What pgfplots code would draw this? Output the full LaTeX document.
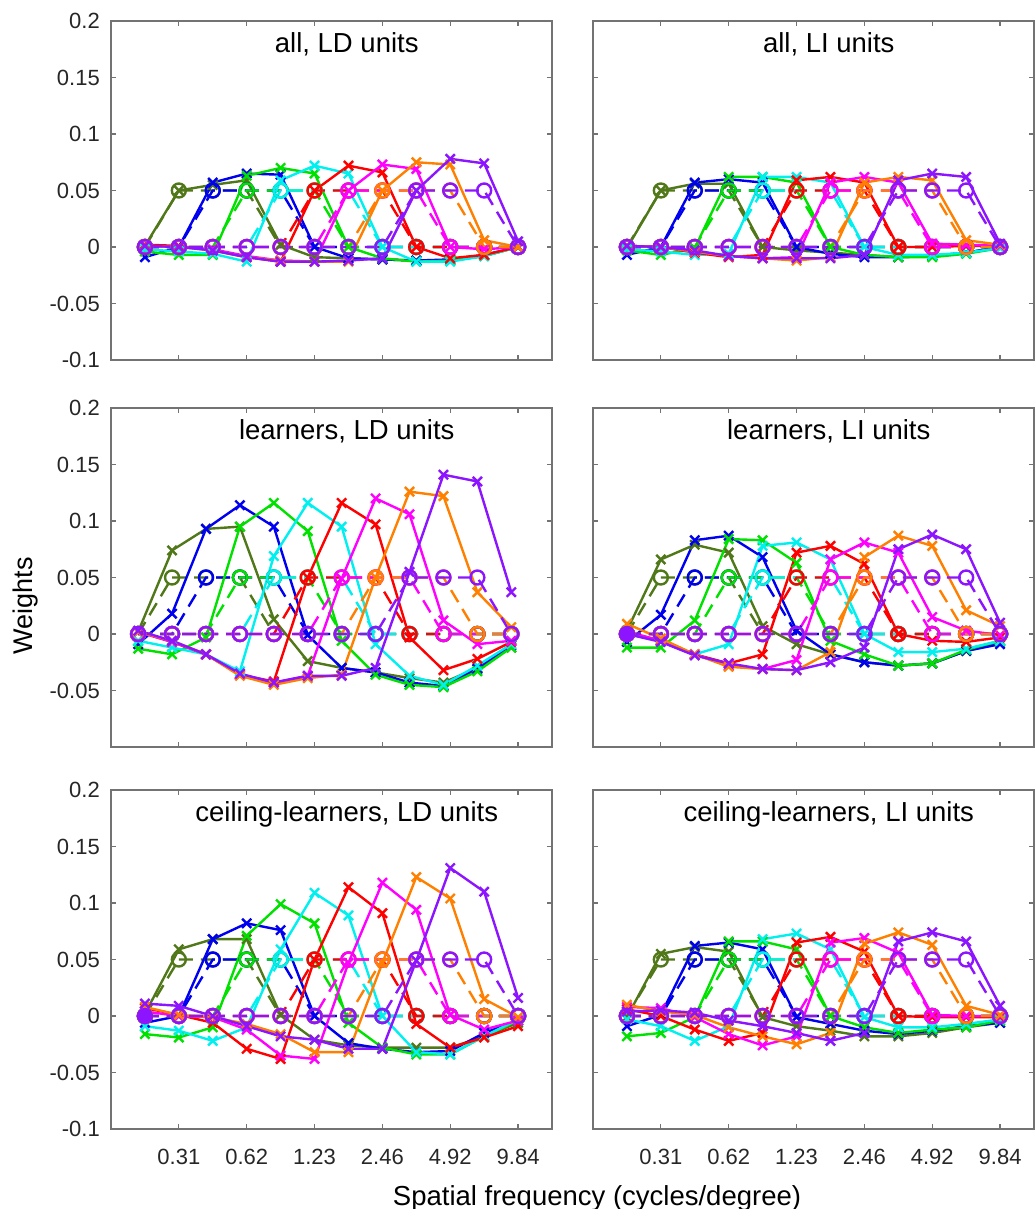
\documentclass[border=0pt]{standalone}
\usepackage{pgfplots}
\pgfplotsset{compat=1.18}
\usepackage{pgfplotstable}
\usepackage{fontspec}
\setmainfont{Liberation Sans}
\definecolor{cA}{RGB}{80,120,25}
\definecolor{cB}{RGB}{0,0,240}
\definecolor{cC}{RGB}{0,225,0}
\definecolor{cD}{RGB}{0,240,240}
\definecolor{cE}{RGB}{255,0,0}
\definecolor{cF}{RGB}{255,0,255}
\definecolor{cG}{RGB}{255,128,0}
\definecolor{cH}{RGB}{140,20,255}

% initial weights (circles, dashed); xs = shifted positions for the middle-left panel
\pgfplotstableread{
x xs a b c d e f g h
1 0.8 0 0 0 0 0 0 0 0
2 1.8 0.05 0 0 0 0 0 0 0
3 2.8 0.05 0.05 0 0 0 0 0 0
4 3.8 0.05 0.05 0.05 0 0 0 0 0
5 4.8 0 0.05 0.05 0.05 0 0 0 0
6 5.8 0 0 0.05 0.05 0.05 0 0 0
7 6.8 0 0 0 0.05 0.05 0.05 0 0
8 7.8 0 0 0 0 0.05 0.05 0.05 0
9 8.8 0 0 0 0 0 0.05 0.05 0.05
10 9.8 0 0 0 0 0 0 0.05 0.05
11 10.8 0 0 0 0 0 0 0 0.05
12 11.8 0 0 0 0 0 0 0 0
}\init

\pgfplotstableread{
x a b c d e f g h
1 0.001 -0.009 -0.004 -0.002 0.002 0.001 0.001 0.001
2 0.050 0.000 -0.007 -0.004 0.001 0.000 0.000 0.000
3 0.055 0.057 -0.007 -0.006 -0.003 -0.002 -0.003 -0.003
4 0.059 0.065 0.063 -0.013 -0.009 -0.008 -0.009 -0.009
5 0.002 0.064 0.070 0.059 -0.013 -0.012 -0.012 -0.013
6 -0.009 0.000 0.065 0.072 0.050 -0.013 -0.013 -0.013
7 -0.010 -0.010 0.000 0.065 0.072 0.050 -0.013 -0.012
8 -0.011 -0.011 -0.010 0.000 0.066 0.073 0.050 -0.010
9 -0.012 -0.012 -0.013 -0.013 0.000 0.069 0.075 0.050
10 -0.012 -0.011 -0.012 -0.013 -0.010 0.000 0.073 0.078
11 -0.008 -0.007 -0.008 -0.008 -0.007 -0.002 0.006 0.074
12 0.000 0.000 0.000 0.000 0.000 0.000 0.000 0.005
}\TL

\pgfplotstableread{
x a b c d e f g h
1 -0.001 -0.007 -0.003 -0.002 0.001 0.001 0.001 0.001
2 0.050 0.000 -0.007 -0.004 0.000 0.000 0.000 0.000
3 0.056 0.057 -0.001 -0.007 -0.005 -0.004 -0.004 -0.003
4 0.056 0.060 0.062 -0.006 -0.009 -0.008 -0.008 -0.008
5 0.000 0.057 0.062 0.062 -0.007 -0.010 -0.010 -0.010
6 -0.003 0.000 0.057 0.062 0.059 -0.009 -0.012 -0.010
7 -0.005 -0.006 0.000 0.057 0.062 0.057 -0.009 -0.010
8 -0.007 -0.009 -0.007 0.000 0.057 0.062 0.057 -0.007
9 -0.009 -0.009 -0.009 -0.007 0.000 0.057 0.062 0.059
10 -0.008 -0.008 -0.009 -0.007 0.000 0.003 0.059 0.065
11 -0.005 -0.005 -0.006 -0.005 0.001 0.002 0.006 0.062
12 0.000 0.000 -0.001 -0.001 0.001 0.001 0.002 0.003
}\TR

\pgfplotstableread{
x a b c d e f g h
0.8 0.002 -0.009 -0.013 -0.006 0.002 0.002 0.002 0.003
1.8 0.074 0.018 -0.018 -0.012 -0.007 -0.007 -0.006 -0.006
2.8 0.093 0.093 -0.003 -0.018 -0.018 -0.018 -0.018 -0.018
3.8 0.095 0.114 0.095 -0.033 -0.036 -0.036 -0.037 -0.035
4.8 0.013 0.095 0.116 0.069 -0.042 -0.043 -0.045 -0.043
5.8 -0.024 -0.001 0.091 0.116 0.050 -0.037 -0.039 -0.037
6.8 -0.030 -0.030 -0.006 0.095 0.116 0.049 -0.036 -0.037
7.8 -0.034 -0.034 -0.036 -0.009 0.097 0.120 0.050 -0.030
8.8 -0.039 -0.043 -0.045 -0.037 -0.003 0.106 0.126 0.055
9.8 -0.043 -0.046 -0.047 -0.045 -0.032 0.012 0.122 0.141
10.8 -0.030 -0.031 -0.033 -0.028 -0.022 -0.009 0.037 0.135
11.8 -0.012 -0.010 -0.012 -0.009 -0.007 -0.006 0.006 0.037
}\ML

\pgfplotstableread{
x a b c d e f g h
1 0.003 -0.007 -0.012 0.000 0.002 0.002 0.009 0.000
2 0.066 0.017 -0.012 -0.006 -0.006 -0.006 -0.004 -0.007
3 0.079 0.083 0.012 -0.018 -0.018 -0.018 -0.018 -0.019
4 0.072 0.087 0.084 -0.009 -0.026 -0.028 -0.029 -0.026
5 0.007 0.068 0.083 0.078 -0.018 -0.031 -0.031 -0.031
6 -0.009 0.003 0.063 0.081 0.072 -0.023 -0.032 -0.032
7 -0.018 -0.018 -0.006 0.066 0.078 0.066 -0.016 -0.025
8 -0.025 -0.025 -0.018 0.000 0.062 0.081 0.068 -0.012
9 -0.028 -0.028 -0.028 -0.016 0.000 0.072 0.087 0.075
10 -0.026 -0.026 -0.026 -0.016 -0.006 0.015 0.078 0.088
11 -0.015 -0.015 -0.014 -0.013 -0.007 0.003 0.021 0.075
12 -0.007 -0.009 -0.006 -0.006 -0.003 -0.001 0.007 0.010
}\MR

\pgfplotstableread{
x a b c d e f g h
1 0.002 -0.006 -0.016 -0.009 0.007 0.004 0.008 0.011
2 0.059 0.000 -0.019 -0.013 0.001 0.000 0.001 0.009
3 0.068 0.068 -0.010 -0.022 -0.006 -0.001 -0.001 0.000
4 0.068 0.082 0.071 -0.010 -0.029 -0.012 -0.007 -0.009
5 0.001 0.076 0.099 0.059 -0.038 -0.035 -0.016 -0.018
6 -0.021 0.000 0.082 0.109 0.050 -0.038 -0.032 -0.021
7 -0.026 -0.024 -0.006 0.089 0.114 0.047 -0.032 -0.029
8 -0.028 -0.029 -0.028 0.000 0.091 0.118 0.047 -0.029
9 -0.028 -0.032 -0.034 -0.032 -0.007 0.094 0.123 0.049
10 -0.028 -0.031 -0.034 -0.034 -0.028 0.001 0.104 0.131
11 -0.018 -0.015 -0.018 -0.018 -0.019 -0.012 0.015 0.110
12 -0.006 -0.004 -0.004 -0.003 -0.009 -0.004 -0.001 0.016
}\BL

\pgfplotstableread{
x a b c d e f g h
1 -0.001 -0.009 -0.018 -0.003 0.006 0.008 0.010 0.004
2 0.055 0.001 -0.015 -0.009 0.000 0.007 0.004 0.005
3 0.061 0.062 -0.001 -0.022 -0.012 -0.001 0.001 0.003
4 0.057 0.065 0.066 -0.009 -0.022 -0.016 -0.010 -0.004
5 -0.001 0.059 0.066 0.068 -0.015 -0.026 -0.018 -0.009
6 -0.009 -0.001 0.059 0.073 0.065 -0.018 -0.025 -0.015
7 -0.013 -0.007 0.000 0.059 0.070 0.065 -0.015 -0.022
8 -0.018 -0.013 -0.010 -0.001 0.057 0.069 0.064 -0.015
9 -0.018 -0.016 -0.015 -0.010 0.000 0.056 0.074 0.066
10 -0.015 -0.013 -0.012 -0.010 -0.001 0.001 0.063 0.074
11 -0.010 -0.009 -0.010 -0.007 -0.001 0.000 0.009 0.066
12 -0.006 -0.006 -0.004 -0.003 -0.001 0.000 0.001 0.009
}\BR

\newcommand\unit[4]{%
  \addplot[#1, line width=2.4pt, line join=round, mark=x, mark size=6.5pt, mark options={solid}] table[x=x, y=#3]{#2};
  \addplot[#1, line width=2.4pt, dash pattern=on 14pt off 8pt, mark=o, mark size=7pt, mark options={solid}] table[x=#4, y=#3]{\init};
}
\newcommand\allunits[2]{%
  \unit{cA}{#1}{a}{#2}\unit{cB}{#1}{b}{#2}\unit{cC}{#1}{c}{#2}\unit{cD}{#1}{d}{#2}%
  \unit{cE}{#1}{e}{#2}\unit{cF}{#1}{f}{#2}\unit{cG}{#1}{g}{#2}\unit{cH}{#1}{h}{#2}%
}
\newcommand\ttl[1]{\node[font=\fontsize{27.5}{29}\selectfont, anchor=base] at (axis cs:6.95,0.172) {#1};}

\pgfplotsset{panel/.style={
  scale only axis, width=441pt, height=339pt, anchor=north west,
  xmin=0, xmax=13, ymin=-0.1, ymax=0.2,
  xtick={2,4,6,8,10,12}, ytick={-0.1,-0.05,0,0.05,0.1,0.15,0.2},
  xticklabels={}, yticklabels={},
  tick align=inside, major tick length=5pt,
  axis line style={draw=black!55, line width=1.2pt},
  every tick/.style={draw=black!55, line width=1.2pt},
  tick label style={font=\fontsize{22}{24}\selectfont, text=black!85, inner sep=0pt},
  xticklabel style={yshift=-20pt},
  yticklabel style={xshift=-11pt},
  clip=false,
}}

\begin{document}
\begin{tikzpicture}
\path[use as bounding box] (0,0) rectangle (1035pt,-1209pt);

\begin{axis}[panel, at={(111pt,-21pt)}, yticklabels={-0.1,-0.05,0,0.05,0.1,0.15,0.2}]
\allunits{\TL}{x}
\ttl{all, LD units}
\end{axis}

\begin{axis}[panel, at={(593pt,-21pt)}]
\allunits{\TR}{x}
\ttl{all, LI units}
\end{axis}

\begin{axis}[panel, at={(111pt,-408pt)}, yticklabels={,-0.05,0,0.05,0.1,0.15,0.2}]
\allunits{\ML}{xs}
\ttl{learners, LD units}
\end{axis}

\begin{axis}[panel, at={(593pt,-408pt)}]
\allunits{\MR}{x}
\addplot[cH, only marks, mark=*, mark size=7pt] coordinates {(1,0)};
\ttl{learners, LI units}
\end{axis}

\begin{axis}[panel, at={(111pt,-790pt)}, yticklabels={-0.1,-0.05,0,0.05,0.1,0.15,0.2}, xticklabels={0.31,0.62,1.23,2.46,4.92,9.84}]
\allunits{\BL}{x}
\addplot[cH, only marks, mark=*, mark size=7pt] coordinates {(1,0)};
\ttl{ceiling-learners, LD units}
\end{axis}

\begin{axis}[panel, at={(593pt,-790pt)}, xticklabels={0.31,0.62,1.23,2.46,4.92,9.84}]
\allunits{\BR}{x}
\ttl{ceiling-learners, LI units}
\end{axis}

\node[font=\fontsize{27.5}{29}\selectfont, anchor=base] at (597pt,-1205pt) {Spatial frequency (cycles/degree)};
\node[font=\fontsize{27}{29}\selectfont, rotate=90, anchor=base] at (32pt,-606pt) {Weights};
\end{tikzpicture}
\end{document}
